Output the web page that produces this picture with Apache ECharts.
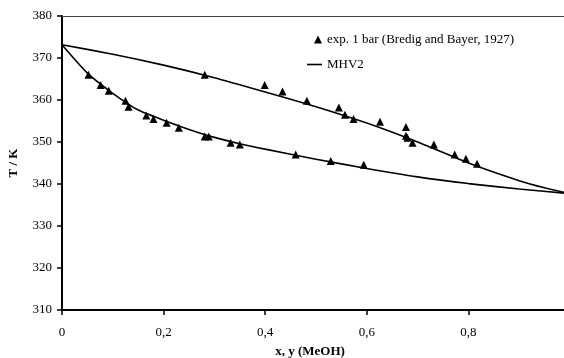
<!DOCTYPE html>
<html>
<head>
<meta charset="utf-8">
<script src="https://cdn.jsdelivr.net/npm/echarts@6/dist/echarts.min.js"></script>
<style>
  html, body { margin: 0; padding: 0; background: #fff; }
  #chart { width: 564px; height: 358px; }
</style>
</head>
<body>
<div id="chart"></div>
<script>
// Methanol–water VLE at 1 bar: experimental points (Bredig and Bayer, 1927) and MHV2 model

// experimental liquid-side points: mole fraction x, temperature T [K]
const expLiqX = [0.052, 0.076, 0.092, 0.125, 0.131, 0.166, 0.180, 0.206, 0.230, 0.281, 0.289, 0.332, 0.350, 0.460, 0.529, 0.594];
const expLiqT = [366.0, 363.6, 362.2, 359.8, 358.4, 356.3, 355.5, 354.6, 353.4, 351.3, 351.3, 349.8, 349.4, 347.0, 345.5, 344.6];

// experimental vapour-side points: mole fraction y, temperature T [K]
const expVapY = [0.281, 0.399, 0.434, 0.482, 0.545, 0.557, 0.574, 0.626, 0.677, 0.677, 0.680, 0.690, 0.732, 0.773, 0.795, 0.817];
const expVapT = [366.0, 363.6, 362.0, 359.8, 358.2, 356.5, 355.5, 354.8, 353.6, 351.5, 351.0, 349.8, 349.4, 347.0, 346.0, 344.8];

// MHV2 bubble-point curve
const mhvBubX = [0, 0.05, 0.1, 0.15, 0.2, 0.25, 0.3, 0.35, 0.4, 0.5, 0.6, 0.7, 0.8, 0.9, 1.0];
const mhvBubT = [373.15, 366.4, 361.6, 357.6, 355.2, 353.0, 351.1, 349.6, 348.3, 345.9, 343.7, 341.7, 340.1, 338.8, 337.7];

// MHV2 dew-point curve
const mhvDewY = [0, 0.1, 0.2, 0.3, 0.4, 0.5, 0.6, 0.7, 0.8, 0.9, 0.95, 1.0];
const mhvDewT = [373.15, 370.9, 368.3, 365.3, 361.9, 358.4, 354.5, 350.0, 345.0, 340.8, 339.1, 337.7];

const xTicks = [0, 0.2, 0.4, 0.6, 0.8];
const yTicks = [310, 320, 330, 340, 350, 360, 370, 380];

const EXP_NAME = 'exp. 1 bar (Bredig and Bayer, 1927)';
const MODEL_NAME = 'MHV2';

const zip = (a, b) => a.map((v, i) => [v, b[i]]);
const serif = '"Liberation Serif", "Times New Roman", serif';
const legendText = { fontFamily: serif, fontSize: 13, color: '#000' };

const chart = echarts.init(document.getElementById('chart'), null, { renderer: 'canvas' });

chart.setOption({
  backgroundColor: '#ffffff',
  animation: false,
  textStyle: { fontFamily: serif, color: '#000' },
  // x = 1 sits just past the right edge of the canvas
  grid: { left: 62, top: 16, width: 508, height: 294, containLabel: false, outerBoundsMode: 'none' },
  legend: [{
    // experimental points: small triangle key
    orient: 'vertical',
    left: 309,
    top: 28,
    itemWidth: 8,
    itemHeight: 8,
    textStyle: legendText,
    data: [{ name: EXP_NAME, icon: 'triangle', itemStyle: { color: '#000', opacity: 1 } }]
  }, {
    // model curve: plain line key
    orient: 'vertical',
    left: 302,
    top: 53,
    itemWidth: 15,
    itemHeight: 8,
    textStyle: legendText,
    data: [{ name: MODEL_NAME, icon: 'path://M0,0 L15,0 L15,1.6 L0,1.6 Z', itemStyle: { color: '#000' } }]
  }],
  xAxis: [{
    type: 'value',
    min: 0,
    max: 1,
    interval: 0.2,
    name: 'x, y (MeOH)',
    nameLocation: 'middle',
    nameGap: 35,
    nameTextStyle: { fontFamily: serif, fontSize: 13, fontWeight: 'bold', color: '#000', padding: [0, 12, 0, 0] },
    axisLine: { show: true, onZero: false, lineStyle: { color: '#000', width: 2 } },
    axisTick: { show: true, inside: false, length: 5, lineStyle: { color: '#000', width: 1.5 } },
    axisLabel: {
      margin: 16,
      fontSize: 13,
      fontFamily: serif,
      color: '#000',
      formatter: v => xTicks.includes(+v.toFixed(1)) ? String(+v.toFixed(1)).replace('.', ',') : ''
    },
    splitLine: { show: false }
  }, {
    // thin frame line along the top of the plot
    type: 'value',
    position: 'top',
    min: 0,
    max: 1,
    axisLine: { show: true, onZero: false, lineStyle: { color: '#444', width: 1 } },
    axisTick: { show: false },
    axisLabel: { show: false },
    splitLine: { show: false }
  }],
  yAxis: {
    type: 'value',
    min: yTicks[0],
    max: yTicks[yTicks.length - 1],
    interval: 10,
    name: 'T / K',
    nameLocation: 'middle',
    nameGap: 42,
    nameRotate: 90,
    nameTextStyle: { fontFamily: serif, fontSize: 13, fontWeight: 'bold', color: '#000' },
    axisLine: { show: true, onZero: false, lineStyle: { color: '#000', width: 2 } },
    axisTick: { show: true, inside: false, length: 5, lineStyle: { color: '#000', width: 1.5 } },
    axisLabel: { margin: 10, fontSize: 13, fontFamily: serif, color: '#000' },
    splitLine: { show: false }
  },
  series: [
    {
      name: MODEL_NAME,
      type: 'line',
      data: zip(mhvBubX, mhvBubT),
      smooth: 0.2,
      symbol: 'none',
      lineStyle: { color: '#000', width: 1.6 },
      itemStyle: { color: '#000' },
      z: 2
    },
    {
      name: MODEL_NAME,
      type: 'line',
      data: zip(mhvDewY, mhvDewT),
      smooth: 0.2,
      symbol: 'none',
      lineStyle: { color: '#000', width: 1.6 },
      itemStyle: { color: '#000' },
      z: 2
    },
    {
      name: EXP_NAME,
      type: 'scatter',
      data: zip(expLiqX, expLiqT).concat(zip(expVapY, expVapT)),
      symbol: 'triangle',
      symbolSize: 8,
      itemStyle: { color: '#000', opacity: 1 },
      z: 3
    }
  ]
});
</script>
</body>
</html>
